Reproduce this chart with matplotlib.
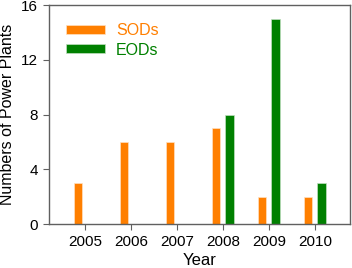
import numpy as np
import matplotlib.pyplot as plt

plt.rcParams['font.family'] = ['Liberation Sans', 'DejaVu Sans']

years = ['2005', '2006', '2007', '2008', '2009', '2010']
sods = [3, 6, 6, 7, 2, 2]
eods = [0, 0, 0, 8, 15, 3]

orange = '#ff7f00'
green = '#008000'

fig = plt.figure(figsize=(3.52, 2.68), dpi=100)
ax = fig.add_axes([0.139, 0.164, 0.855, 0.817])

x = np.arange(len(years))
w = 0.19
ax.bar(x - 0.15, sods, w, color=orange, edgecolor='#ffe0c0', linewidth=0.5, label='SODs')
ax.bar(x + 0.15, eods, w, color=green, edgecolor='#c0e0c0', linewidth=0.5, label='EODs')

ax.set_xlim(-0.78, 5.76)
ax.set_ylim(0, 16)
ax.set_xticks(x)
ax.set_xticklabels(years)
ax.set_yticks([0, 4, 8, 12, 16])
ax.tick_params(labelsize=11, length=4, color='#606060', direction='out', pad=4)
for s in ax.spines.values():
    s.set_color('#606060')
    s.set_linewidth(1)

ax.set_xlabel('Year', fontsize=12, labelpad=3)
ax.set_ylabel('Numbers of Power Plants', fontsize=11.5, labelpad=4)

leg = ax.legend(loc='upper left', frameon=False, fontsize=11.5, handlelength=2.4,
                handleheight=0.5, handletextpad=0.7, labelspacing=0.3,
                bbox_to_anchor=(0.01, 0.985))
for t, c in zip(leg.get_texts(), [orange, green]):
    t.set_color(c)

fig.savefig('out.png', dpi=100)
